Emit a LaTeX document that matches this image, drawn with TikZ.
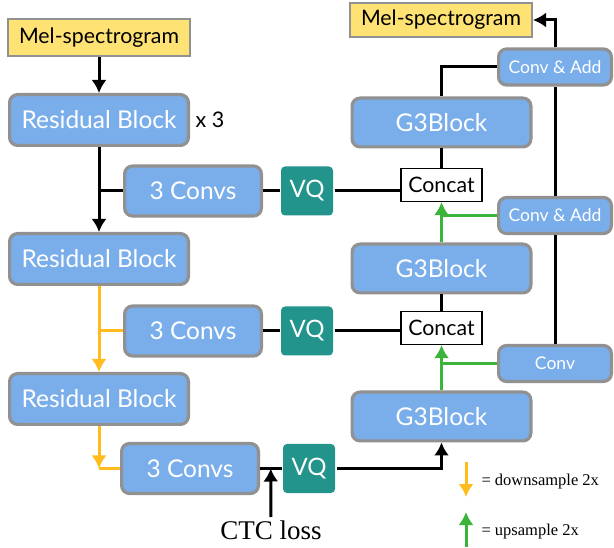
\documentclass[tikz,border=0pt]{standalone}
\usepackage{fontspec}
\setmainfont{Liberation Serif}
\newfontfamily\boxfont{Lato}
\usetikzlibrary{arrows.meta, positioning}
\definecolor{blockblue}{HTML}{7AAEEB}
\definecolor{blockgray}{HTML}{919191}
\definecolor{vqteal}{HTML}{22948C}
\definecolor{melyellow}{HTML}{FFE274}
\definecolor{downyellow}{HTML}{FFBC1C}
\definecolor{upgreen}{HTML}{3CB43C}
\tikzstyle{block} = [draw=blockgray, line width=3.2pt, fill=blockblue, rounded corners=8pt, text=white, inner sep=0pt]
\tikzstyle{resblock} = [block, minimum width=178.8pt, minimum height=50.8pt, font=\boxfont\fontsize{24.5}{24.5}\selectfont]
\tikzstyle{convblock} = [block, minimum width=136.8pt, minimum height=50pt, font=\boxfont\fontsize{24.5}{24.5}\selectfont]
\tikzstyle{gblock} = [block, minimum width=178.8pt, minimum height=48.8pt, font=\boxfont\fontsize{24.5}{24.5}\selectfont]
\tikzstyle{smallblock} = [block, minimum width=112.8pt, minimum height=36pt, font=\boxfont\fontsize{17.5}{17.5}\selectfont]
\tikzstyle{vqblock} = [fill=vqteal, rounded corners=4pt, text=white, minimum width=52pt, minimum height=49pt, inner sep=0pt, font=\boxfont\fontsize{24}{24}\selectfont]
\tikzstyle{melbox} = [draw=blockgray, line width=2pt, fill=melyellow, minimum width=182pt, minimum height=37pt, inner sep=0pt, font=\boxfont\fontsize{21.3}{21.3}\selectfont]
\tikzstyle{catbox} = [draw, line width=1.2pt, fill=white, minimum width=81pt, minimum height=33pt, inner sep=0pt, font=\boxfont\fontsize{21.3}{21.3}\selectfont]
\tikzstyle{legend} = [anchor=west, inner sep=0pt, font=\fontsize{16.5}{16.5}\selectfont]

\begin{document}
\begin{tikzpicture}[x=1pt, y=-1pt, >={Latex[length=13pt,width=15pt]}, line width=3pt]
  \useasboundingbox (0,0) rectangle (614,548);
  % encoder
  \node[melbox] (melin) at (99,37.5) {Mel-spectrogram};
  \node[resblock, below of=melin, node distance=82.5pt] (rb1) {Residual Block};
  \node[right of=rb1, node distance=111pt, font=\boxfont\fontsize{21.5}{21.5}\selectfont] (times) {x 3};
  \node[resblock, below of=rb1, node distance=139pt] (rb2) {Residual Block};
  \node[resblock, below of=rb2, node distance=140pt] (rb3) {Residual Block};
  \node[convblock] (cv1) at (193,191) {3 Convs};
  \node[vqblock, right of=cv1, node distance=114pt] (vq1) {VQ};
  \node[convblock] (cv2) at (193,331) {3 Convs};
  \node[vqblock, right of=cv2, node distance=114pt] (vq2) {VQ};
  \node[convblock] (cv3) at (190,468.5) {3 Convs};
  \node[vqblock, right of=cv3, node distance=119pt] (vq3) {VQ};
  \node[inner sep=2pt, font=\fontsize{27}{27}\selectfont] (ctc) at (271,530) {CTC loss};
  % decoder
  \node[gblock] (g3c) at (441.5,416.5) {G3Block};
  \node[catbox, above of=g3c, node distance=88.5pt] (cat2) {Concat};
  \node[gblock, above of=cat2, node distance=59.5pt] (g3b) {G3Block};
  \node[catbox, above of=g3b, node distance=83.5pt] (cat1) {Concat};
  \node[gblock, above of=cat1, node distance=62.5pt] (g3a) {G3Block};
  \node[melbox, minimum height=34pt] (melout) at (441,20) {Mel-spectrogram};
  \node[smallblock] (conv) at (555,363.5) {Conv};
  \node[smallblock] (ca2) at (555,215.5) {Conv \& Add};
  \node[smallblock] (ca1) at (555,67) {Conv \& Add};
  % legend
  \node[legend] (down) at (480,482) {= downsample 2x};
  \node[legend] (up) at (480,532) {= upsample 2x};
  \coordinate (dtop) at (466,462);
  \coordinate (dbot) at (466,497);
  \coordinate (utop) at (466,512);
  \coordinate (ubot) at (466,547);

  \draw[->] (melin) -- (rb1);
  \draw[->] (rb1) -- (rb2);
  \draw (rb1.south |- cv1.west) -- (cv1);
  \draw (cv1) -- (vq1);
  \draw (vq1) -- (vq1.east -| cat1.west);
  \draw[downyellow, ->] (rb2) -- (rb3);
  \draw[downyellow] (rb2.south |- cv2.west) -- (cv2);
  \draw (cv2) -- (vq2);
  \draw (vq2) -- (vq2.east -| cat2.west);
  \coordinate (turn) at (rb3.south |- cv3.west);
  \draw[downyellow, ->] (rb3) -- (turn);
  \draw[downyellow] (turn) -- (cv3);
  \draw (cv3) -- coordinate (ctcin) (vq3);
  \draw[->] (ctc) -- (ctcin);
  \draw[->] (vq3) -| (g3c);
  \draw[upgreen, ->] (g3c) -- (cat2);
  \draw[upgreen] (conv) -- (conv.west -| cat2.south);
  \draw (cat2) -- (g3b);
  \draw[upgreen, ->] (g3b) -- (cat1);
  \draw[upgreen] (ca2) -- (ca2.west -| cat1.south);
  \draw (cat1) -- (g3a);
  \draw (ca1) -| (g3a);
  \draw (conv) -- (ca2);
  \draw (ca2) -- (ca1);
  \draw[->] (ca1) |- (melout);
  \draw[downyellow, ->] (dtop) -- (dbot);
  \draw[upgreen, ->] (ubot) -- (utop);
\end{tikzpicture}
\end{document}
